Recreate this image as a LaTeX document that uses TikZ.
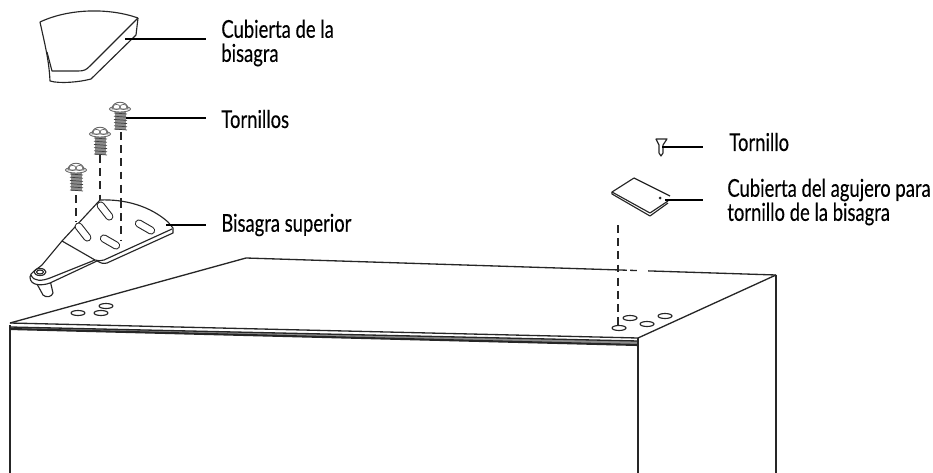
\documentclass[tikz,border=0pt]{standalone}
\usepackage{fontspec}
\setmainfont[FakeStretch=0.75, FakeBold=0.25]{Lato}
\newcommand\colorLine{black!85}
\newcommand\colorThread{black!45}
\newcommand\drawScrew[2]{
	\fill[color=\colorThread] (#1-5,#2+5) rectangle (#1+6,#2+23);
	\foreach \i in {0,...,5}{
		\draw[color=black!75, line width=0.4pt] (#1-6,#2+6+\i*3.2) to (#1+7,#2+7+\i*3.2);
	}
	\draw[draw=black!60, fill=white, line width=0.5pt] (#1,#2+2) ellipse (10.5 and 3);
	\draw[draw=black!60, fill=white, line width=0.5pt] (#1-8,#2+2) .. controls (#1-8,#2-7) and (#1+8,#2-7) .. (#1+8,#2+2) to cycle;
	\draw[color=black!60, line width=0.4pt] (#1-3.5,#2) circle (3.5 and 2.6);
	\draw[color=black!60, line width=0.4pt] (#1+3.5,#2) circle (3.5 and 2.6);
}
\tikzset{
	outline/.style={color=\colorLine, line width=0.65pt, line join=round},
	cabinet/.style={color=\colorLine, line width=0.75pt},
	guide/.style={color=\colorLine, line width=0.65pt, dash pattern=on 4.5pt off 3pt},
	leader/.style={color=black, line width=1.15pt, shorten >=8.5pt},
	callout/.style={anchor=west, inner sep=0pt, align=left, font=\fontsize{14}{13.7}\selectfont, text=black},
}
\begin{document}
\begin{tikzpicture}[x=0.02cm, y=-0.02cm]
	\useasboundingbox (0,0) rectangle (933,473);

	\node[callout] (coverLabel) at (221,43) {Cubierta de la\\bisagra};
	\node[callout] (screwsLabel) at (221,119) {Tornillos};
	\node[callout] (hingeLabel) at (221,225) {Bisagra superior};
	\node[callout] (screwLabel) at (729,142) {Tornillo};
	\node[callout] (plateLabel) at (727,202) {Cubierta del agujero para\\tornillo de la bisagra};

	\draw[outline] (138,18) .. controls (110,8) and (70,8) .. (40,22) .. controls (45,45) and (49,60) .. (50,81) .. controls (60,84) and (80,82) .. (91,79) to (136,35) to (138,18);
	\draw[outline] (138,18) to (90,66) .. controls (86,70) and (84,71) .. (78,71) to (52,71) to (47,52);

	\draw[guide] (121,132) to (121,240);
	\draw[guide] (100,155) to (100,200);
	\draw[guide] (76,195) to (76,222);
	\drawScrew{120}{107}
	\drawScrew{100}{132}
	\drawScrew{76}{168}

	\draw[outline, fill=white] (37,284) to (43,295) .. controls (46,298) and (52,297) .. (53,293) to (50,280);
	\draw[outline, fill=white] (100,200) .. controls (125,199) and (150,206) .. (168,222) to (173,228) to (173,233) to (107,263) .. controls (103,264) and (100,263) .. (97,261) to (50,283) .. controls (42,286) and (30,286) .. (30,277) .. controls (30,273) and (36,270) .. (42,265) to (62,241) to cycle;
	\draw[outline] (62,241) to (95,260) .. controls (98,261) and (101,261) .. (104,260) to (172,229);
	\draw[outline] (31,275) .. controls (34,282) and (42,281) .. (50,278) to (95,260);
	\draw[outline] (40,272) ellipse (6 and 3.5);
	\draw[outline] (40,272) ellipse (3.5 and 2);
	\draw[guide] (121,200) to (121,240);
	\foreach \slotX/\slotY/\slotA in {105/211/-52, 83/232/-52, 110/242/-30, 145/227/-30}{
		\draw[color=\colorLine, line width=4.6pt, line cap=round, rotate around={\slotA:(\slotX,\slotY)}] (\slotX-7,\slotY) to (\slotX+7,\slotY);
		\draw[color=white, line width=3.4pt, line cap=round, rotate around={\slotA:(\slotX,\slotY)}] (\slotX-7,\slotY) to (\slotX+7,\slotY);
	}

	\draw[outline] (656,139) to (667,139) to (663,145) to (663,153) to (661,156) to (659,153) to (659,145) to cycle;
	\draw[outline] (670,196) to (634,178) to (612,192) to (650,213) to (668,201);
	\draw[outline] (612,192) to (612,194) to (650,216) to (668,203);
	\fill[color=\colorLine] (660,198) circle (1.5);

	\coordinate (coverTip) at (125,39);
	\coordinate (screwsTip) at (126,118);
	\coordinate (hingeTip) at (166,225);
	\coordinate (screwTip) at (662,147);
	\coordinate (plateTip) at (665,200);
	\draw[leader] (coverTip) to (coverTip -| coverLabel.west);
	\draw[leader] (screwsTip) to (screwsTip -| screwsLabel.west);
	\draw[leader] (hingeTip) to (hingeTip -| hingeLabel.west);
	\draw[leader, shorten >=14.7pt] (screwTip) to (screwTip -| screwLabel.west);
	\draw[leader, shorten >=13.6pt] (plateTip) to (plateTip -| plateLabel.west);

	\fill[color=black!45] (10,327) to (638,341) to (638,345) to (10,329) to cycle;
	\draw[cabinet] (10,323) to (246,258) to (776,275);
	\draw[cabinet] (776,275) to (638,338);
	\draw[cabinet] (10,323) to (638,338);
	\draw[cabinet] (10,327) to (638,341);
	\draw[cabinet, line width=1.2pt] (10,329) to (638,345);
	\draw[cabinet] (10,325) to (10,473);
	\draw[cabinet, line width=1.1pt] (638,338) to (638,473);
	\draw[cabinet, line width=1.2pt] (776,275) to (776,473);
	\foreach \holeX/\holeY in {78/313, 101/313, 106/306, 619/328, 630/318, 647/324, 665/316}{
		\draw[outline] (\holeX,\holeY) ellipse (7 and 2.5);
	}
	\fill[color=white] (627,265) rectangle (630,275);
	\fill[color=white] (637,265) rectangle (648,275);
	\draw[guide] (618,225) to (618,326);
\end{tikzpicture}
\end{document}
